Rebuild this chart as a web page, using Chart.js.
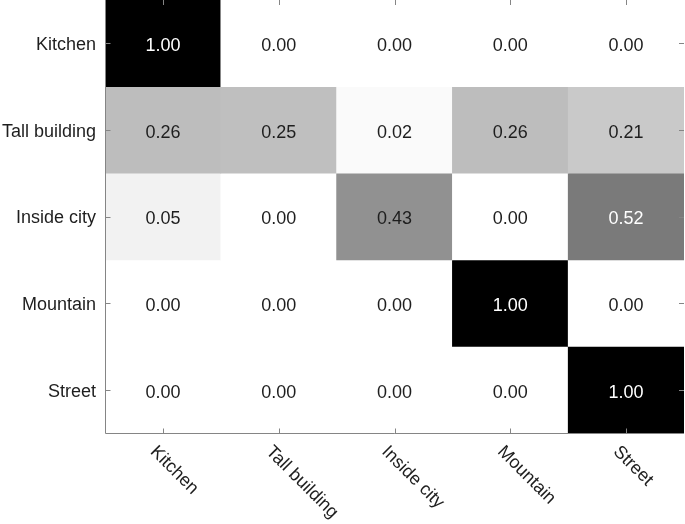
<!DOCTYPE html>
<html>
<head>
<meta charset="utf-8">
<script src="https://cdn.jsdelivr.net/npm/chart.js@4/dist/chart.umd.min.js"></script>
<style>
  html, body { margin: 0; padding: 0; background: #fff; }
</style>
</head>
<body>
<canvas id="myChart" width="685" height="524"></canvas>
<script>
// confusion matrix: rows = true class, cols = predicted class
const classes = ['Kitchen', 'Tall building', 'Inside city', 'Mountain', 'Street'];

const kitchenRow      = [1.00, 0.00, 0.00, 0.00, 0.00];
const tallBuildingRow = [0.26, 0.25, 0.02, 0.26, 0.21];
const insideCityRow   = [0.05, 0.00, 0.43, 0.00, 0.52];
const mountainRow     = [0.00, 0.00, 0.00, 1.00, 0.00];
const streetRow       = [0.00, 0.00, 0.00, 0.00, 1.00];

const matrix = [kitchenRow, tallBuildingRow, insideCityRow, mountainRow, streetRow];

const FONT = '"Liberation Sans", Arial, Helvetica, sans-serif';
const AXIS_COLOR = '#858585';

function grayFor(v) {
  const g = Math.round(255 * (1 - v));
  return 'rgb(' + g + ',' + g + ',' + g + ')';
}

// one dataset per row, floating bars spanning [r, r+1] on the reversed y scale
const datasets = matrix.map((row, r) => ({
  label: classes[r],
  data: row.map(() => [r, r + 1]),
  values: row,
  backgroundColor: row.map(grayFor),
  borderWidth: 0,
  barPercentage: 1,
  categoryPercentage: 1,
  grouped: false
}));

const cellText = {
  id: 'cellText',
  afterDatasetsDraw(chart) {
    const ctx = chart.ctx;
    ctx.save();
    ctx.font = '18px ' + FONT;
    ctx.textAlign = 'center';
    ctx.textBaseline = 'middle';
    chart.data.datasets.forEach((ds, i) => {
      chart.getDatasetMeta(i).data.forEach((el, j) => {
        const v = ds.values[j];
        const p = el.getCenterPoint();
        ctx.fillStyle = v > 0.5 ? '#ffffff' : '#1e1e1e';
        ctx.fillText(v.toFixed(2), p.x, p.y + 3);
      });
    });
    ctx.restore();
  }
};

// MATLAB-like axis lines, inward ticks and custom (rotated) labels
const axisDecor = {
  id: 'axisDecor',
  afterDraw(chart) {
    const ctx = chart.ctx;
    const a = chart.chartArea;
    const xs = chart.scales.x;
    const ys = chart.scales.y;
    ctx.save();
    ctx.strokeStyle = AXIS_COLOR;
    ctx.lineWidth = 1;
    ctx.beginPath();
    const L = Math.round(a.left) + 0.5;
    const B = Math.round(a.bottom) + 0.5;
    ctx.moveTo(L, a.top); ctx.lineTo(L, B); ctx.lineTo(a.right, B);
    classes.forEach((c, i) => {
      const x = Math.round(xs.getPixelForTick(i)) + 0.5;
      ctx.moveTo(x, B); ctx.lineTo(x, B - 5);
      ctx.moveTo(x, a.top); ctx.lineTo(x, a.top + 5);
      const y = Math.round(ys.getPixelForValue(i + 0.5)) + 0.5;
      ctx.moveTo(L, y); ctx.lineTo(L + 5, y);
      ctx.moveTo(a.right, y); ctx.lineTo(a.right - 5, y);
    });
    ctx.stroke();

    ctx.fillStyle = '#1e1e1e';
    ctx.font = '18px ' + FONT;
    // y labels
    ctx.textAlign = 'right';
    ctx.textBaseline = 'middle';
    classes.forEach((c, i) => {
      ctx.fillText(c, a.left - 9, ys.getPixelForValue(i + 0.5) + 2);
    });
    // x labels, rotated 45 deg clockwise
    ctx.textAlign = 'left';
    classes.forEach((c, i) => {
      const x = xs.getPixelForTick(i);
      ctx.save();
      ctx.translate(x - 10, a.bottom + 16);
      ctx.rotate(Math.PI / 4);
      ctx.fillText(c, 0, 0);
      ctx.restore();
    });
    ctx.restore();
  }
};

const ctx = document.getElementById('myChart').getContext('2d');
const myChart = new Chart(ctx, {
  type: 'bar',
  data: { labels: classes, datasets: datasets },
  options: {
    responsive: false,
    animation: false,
    layout: { padding: { top: 0, right: 1, left: 0, bottom: 0 } },
    plugins: { legend: { display: false }, tooltip: { enabled: false } },
    scales: {
      x: {
        type: 'category',
        grid: { display: false },
        border: { display: false },
        ticks: { display: false },
        afterFit(scale) { scale.height = 91; }
      },
      y: {
        type: 'linear',
        min: 0,
        max: 5,
        reverse: true,
        grid: { display: false },
        border: { display: false },
        ticks: { display: false },
        afterFit(scale) { scale.width = 105; }
      }
    }
  },
  plugins: [cellText, axisDecor]
});
</script>
</body>
</html>
